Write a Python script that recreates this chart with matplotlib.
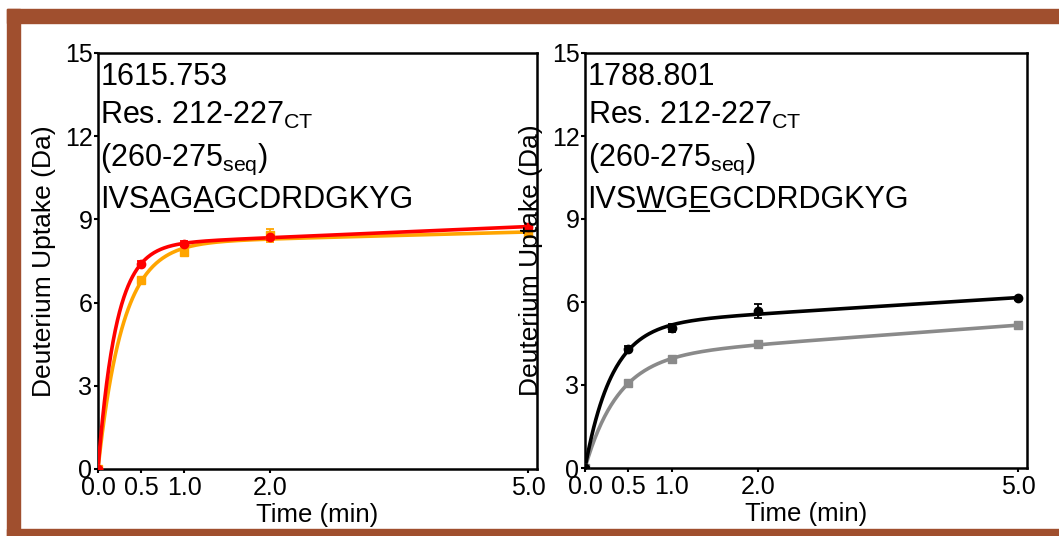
import numpy as np
import matplotlib
matplotlib.use("Agg")
import matplotlib.pyplot as plt
from matplotlib.patches import Rectangle

plt.rcParams['font.family'] = ['Liberation Sans', 'DejaVu Sans']
plt.rcParams['mathtext.fontset'] = 'custom'
plt.rcParams['mathtext.rm'] = 'Liberation Sans'
plt.rcParams['mathtext.it'] = 'Liberation Sans:italic'
plt.rcParams['mathtext.bf'] = 'Liberation Sans:bold'

# ---------------- data ----------------
times = [0.0, 0.5, 1.0, 2.0, 5.0]
xtick_vals = [0.0, 0.5, 1.0, 2.0, 5.0]
xtick_labels = ["0.0", "0.5", "1.0", "2.0", "5.0"]
ytick_vals = [0, 3, 6, 9, 12, 15]

# left panel (1615.753)
red_vals = [0.0, 7.40, 8.13, 8.35, 8.74]
red_err = [0.0, 0.10, 0.08, 0.10, 0.10]
orange_vals = [0.0, 6.80, 7.82, 8.42, 8.52]
orange_err = [0.0, 0.10, 0.10, 0.22, 0.12]

# right panel (1788.801)
black_vals = [0.0, 4.30, 5.05, 5.66, 6.14]
black_err = [0.0, 0.10, 0.14, 0.25, 0.05]
gray_vals = [0.0, 3.07, 3.93, 4.47, 5.16]
gray_err = [0.0, 0.05, 0.05, 0.05, 0.08]

left_texts = ["1615.753", "Res. 212-227", "(260-275", "IVSAGAGCDRDGKYG"]
right_texts = ["1788.801", "Res. 212-227", "(260-275", "IVSWGEGCDRDGKYG"]
underline_idx = [3, 5]

RED = "#ff0000"
ORANGE = "#ffa500"
BLACK = "#000000"
GRAY = "#8a8a8a"
BROWN = "#a04f2e"


def fit_curve(t, y):
    t = np.asarray(t, float)
    y = np.asarray(y, float)
    best = None
    for k in np.linspace(0.3, 25, 2000):
        X = np.column_stack([1 - np.exp(-k * t), t])
        coef, *_ = np.linalg.lstsq(X, y, rcond=None)
        r = np.sum((X @ coef - y) ** 2)
        if best is None or r < best[0]:
            best = (r, k, coef)
    _, k, coef = best
    tt = np.linspace(0, max(t), 400)
    return tt, coef[0] * (1 - np.exp(-k * tt)) + coef[1] * tt


W, H = 1059, 536
fig = plt.figure(figsize=(W / 100, H / 100), dpi=100)

# brown frame
fig.patches.append(Rectangle((7 / W, (H - 23) / H), 1 - 7 / W, 14 / H,
                             transform=fig.transFigure, color=BROWN, zorder=0))
fig.patches.append(Rectangle((7 / W, 0), 13 / W, (H - 9) / H,
                             transform=fig.transFigure, color=BROWN, zorder=0))
fig.patches.append(Rectangle((7 / W, 0), 1 - 7 / W, 7 / H,
                             transform=fig.transFigure, color=BROWN, zorder=0))

ax1 = fig.add_axes([98 / W, (H - 469) / H, (537 - 98) / W, (469 - 53) / H])
ax2 = fig.add_axes([585 / W, (H - 468) / H, (1027 - 585) / W, (468 - 53) / H])


def style(ax):
    ax.set_xlim(0, 5.1)
    ax.set_ylim(0, 15)
    ax.set_xticks(xtick_vals)
    ax.set_xticklabels(xtick_labels)
    ax.set_yticks(ytick_vals)
    ax.tick_params(labelsize=18, length=3, width=1.5, direction='out')
    ax.tick_params(axis='x', pad=2)
    ax.tick_params(axis='y', pad=1)
    for s in ax.spines.values():
        s.set_linewidth(1.8)
    ax.set_xlabel("Time (min)", fontsize=18.5, labelpad=2)
    ax.set_ylabel("Deuterium Uptake (Da)", fontsize=19, labelpad=6)


def series(ax, vals, err, color, marker):
    tt, yy = fit_curve(times, vals)
    ax.plot(tt, yy, color=color, lw=2.6, zorder=3, solid_capstyle='round')
    ax.errorbar(times, vals, yerr=err, fmt=marker, color=color, ms=6,
                capsize=3, elinewidth=1.3, capthick=1.3, zorder=4)


def annotate(ax, lines):
    fs = 22
    x0 = 2.5 / ax.bbox.width
    base = [85, 124, 166, 208]
    top = 53
    hpx = ax.bbox.height
    ys = [1 - (b - top) / hpx for b in base]
    ax.text(x0, ys[0], lines[0], transform=ax.transAxes, fontsize=fs, va='baseline')
    ax.text(x0, ys[1], lines[1] + r"$_{\mathrm{CT}}$", transform=ax.transAxes,
            fontsize=fs, va='baseline')
    ax.text(x0, ys[2], lines[2] + r"$_{\mathrm{seq}}$)", transform=ax.transAxes,
            fontsize=fs, va='baseline')
    t = ax.text(x0, ys[3], lines[3], transform=ax.transAxes, fontsize=fs, va='baseline')
    r = fig.canvas.get_renderer()
    full = t.get_window_extent(r)
    for i in underline_idx:
        tmp1 = ax.text(x0, ys[3], lines[3][:i], transform=ax.transAxes, fontsize=fs, va='baseline')
        tmp2 = ax.text(x0, ys[3], lines[3][:i + 1], transform=ax.transAxes, fontsize=fs, va='baseline')
        w1 = tmp1.get_window_extent(r).width
        w2 = tmp2.get_window_extent(r).width
        tmp1.remove()
        tmp2.remove()
        xa = full.x0 + w1 + 1
        xb = full.x0 + w2 - 1
        ypix = ax.transAxes.transform((0, ys[3]))[1] - 3
        inv = ax.transAxes.inverted()
        (ax_a, ay), (ax_b, _) = inv.transform([(xa, ypix), (xb, ypix)])
        ax.plot([ax_a, ax_b], [ay, ay], transform=ax.transAxes, color='black', lw=1.5)


for ax in (ax1, ax2):
    style(ax)

series(ax1, orange_vals, orange_err, ORANGE, 's')
series(ax1, red_vals, red_err, RED, 'o')
series(ax2, gray_vals, gray_err, GRAY, 's')
series(ax2, black_vals, black_err, BLACK, 'o')

fig.canvas.draw()
annotate(ax1, left_texts)
annotate(ax2, right_texts)

fig.savefig("out.png", dpi=100)
